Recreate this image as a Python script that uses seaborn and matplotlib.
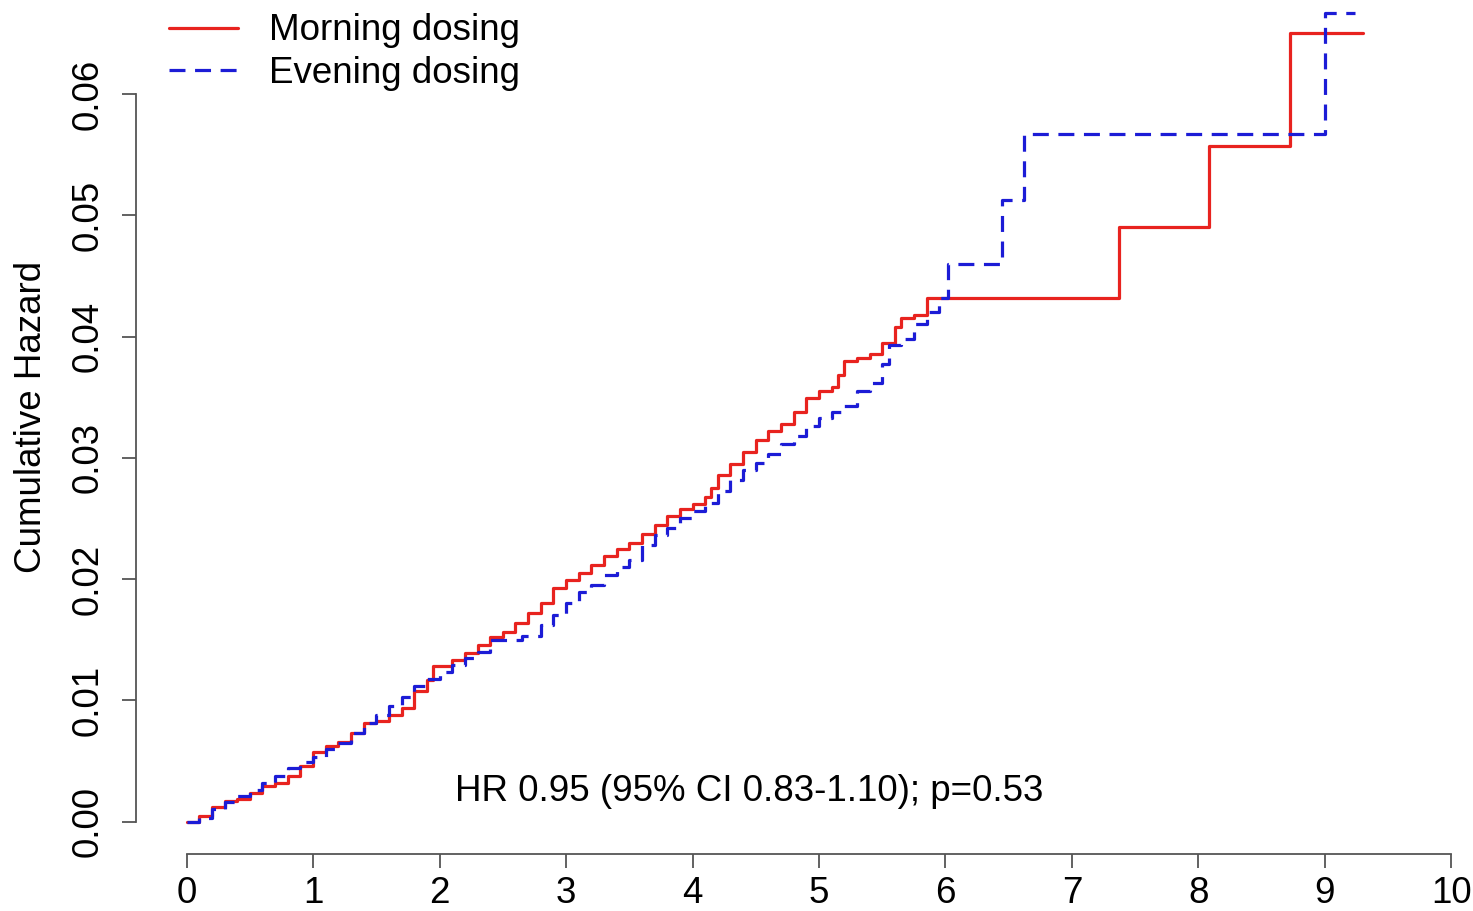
#!/usr/bin/env python3

# Import libraries
import pandas as pd
import matplotlib.pyplot as plt
import seaborn as sns

# Cumulative hazard (years since randomisation)
morning_time = [0, 0.1, 0.2, 0.3, 0.4, 0.5, 0.6, 0.7, 0.8, 0.9,
                1.0, 1.1, 1.2, 1.3, 1.4, 1.5, 1.6, 1.7, 1.8, 1.9,
                1.95, 2.1, 2.2, 2.3, 2.4, 2.5, 2.6, 2.7, 2.8, 2.9,
                3.0, 3.1, 3.2, 3.3, 3.4, 3.5, 3.6, 3.7, 3.8, 3.9,
                4.0, 4.1, 4.15, 4.2, 4.3, 4.4, 4.5, 4.6, 4.7, 4.8,
                4.9, 5.0, 5.1, 5.15, 5.2, 5.3, 5.4, 5.5, 5.6, 5.65,
                5.75, 5.85, 7.37, 8.08, 8.72, 9.30]
morning_hazard = [0, 0.0005, 0.0012, 0.0017, 0.0019, 0.0024, 0.0029, 0.0032, 0.0038, 0.0046,
                  0.0057, 0.0062, 0.0066, 0.0073, 0.0081, 0.0083, 0.0088, 0.0094, 0.0108, 0.0117,
                  0.0128, 0.0133, 0.0139, 0.0146, 0.0152, 0.0156, 0.0164, 0.0172, 0.0180, 0.0193,
                  0.0199, 0.0205, 0.0212, 0.0219, 0.0225, 0.0230, 0.0237, 0.0245, 0.0252, 0.0258,
                  0.0262, 0.0268, 0.0275, 0.0286, 0.0295, 0.0305, 0.0315, 0.0322, 0.0328, 0.0338,
                  0.0349, 0.0355, 0.0358, 0.0368, 0.0380, 0.0382, 0.0386, 0.0395, 0.0408, 0.0415,
                  0.0418, 0.0432, 0.0490, 0.0557, 0.0650, 0.0650]

evening_time = [0, 0.1, 0.2, 0.3, 0.4, 0.5, 0.6, 0.7, 0.8, 0.9,
                1.0, 1.1, 1.2, 1.3, 1.4, 1.5, 1.6, 1.7, 1.8, 1.9,
                2.0, 2.1, 2.2, 2.3, 2.4, 2.65, 2.8, 2.9, 3.0, 3.1,
                3.2, 3.3, 3.4, 3.5, 3.6, 3.7, 3.8, 3.9, 4.0, 4.1,
                4.2, 4.3, 4.4, 4.5, 4.6, 4.7, 4.8, 4.9, 5.0, 5.1,
                5.2, 5.3, 5.4, 5.5, 5.55, 5.65, 5.75, 5.85, 5.95, 6.02,
                6.45, 6.62, 9.00, 9.24]
evening_hazard = [0, 0.0003, 0.0010, 0.0016, 0.0021, 0.0026, 0.0032, 0.0038, 0.0044, 0.0049,
                  0.0053, 0.0060, 0.0065, 0.0073, 0.0081, 0.0088, 0.0095, 0.0103, 0.0112, 0.0118,
                  0.0123, 0.0129, 0.0135, 0.0140, 0.0150, 0.0153, 0.0162, 0.0170, 0.0180, 0.0189,
                  0.0195, 0.0203, 0.0210, 0.0216, 0.0228, 0.0236, 0.0242, 0.0250, 0.0256, 0.0263,
                  0.0273, 0.0282, 0.0290, 0.0296, 0.0303, 0.0311, 0.0318, 0.0326, 0.0333, 0.0338,
                  0.0343, 0.0355, 0.0362, 0.0377, 0.0393, 0.0398, 0.0410, 0.0420, 0.0432, 0.0460,
                  0.0513, 0.0567, 0.0667, 0.0667]

x_ticks = [0, 1, 2, 3, 4, 5, 6, 7, 8, 9, 10]
y_ticks = [0.00, 0.01, 0.02, 0.03, 0.04, 0.05, 0.06]
y_tick_labels = ["0.00", "0.01", "0.02", "0.03", "0.04", "0.05", "0.06"]
annotation = "HR 0.95 (95% CI 0.83-1.10); p=0.53"

df_m = pd.DataFrame({"time": morning_time, "hazard": morning_hazard})
df_e = pd.DataFrame({"time": evening_time, "hazard": evening_hazard})

# Visualisation (R base-graphics look)
sns.set_style("white")
plt.rcParams["font.family"] = ["Liberation Sans", "DejaVu Sans"]
plt.rcParams["text.color"] = "black"
plt.rcParams["axes.labelcolor"] = "black"
fs = 26.5

fig = plt.figure(figsize=(14.73, 9.11), dpi=100)
ax = fig.add_axes([136 / 1473, 57 / 911, 1366 / 1473, 874 / 911])

sns.lineplot(data=df_m, x="time", y="hazard", ax=ax, color="#e8231f",
             lw=2.3, drawstyle="steps-post", estimator=None, label="Morning dosing")
sns.lineplot(data=df_e, x="time", y="hazard", ax=ax, color="#1c1cd6",
             lw=2.3, drawstyle="steps-post", estimator=None, label="Evening dosing")
ax.lines[1].set_dashes((5, 3))

ax.set_xlim(-0.4, 10.4)
ax.set_ylim(-0.00267, 0.0694)

# Axes like R: detached, bounded spines
for s in ["top", "right"]:
    ax.spines[s].set_visible(False)
for s in ["left", "bottom"]:
    ax.spines[s].set_color("#555555")
    ax.spines[s].set_linewidth(1.3)
ax.spines["bottom"].set_bounds(0, 10)
ax.spines["left"].set_bounds(0, 0.06)

ax.set_xticks(x_ticks)
ax.set_yticks(y_ticks)
ax.set_yticklabels(y_tick_labels, rotation=90, va="center")
ax.tick_params(axis="both", direction="out", length=10, width=1.3,
               color="#555555", labelsize=fs, labelcolor="black",
               left=True, bottom=True)
ax.tick_params(axis="x", pad=6)
ax.tick_params(axis="y", pad=12)

ax.set_xlabel("")
ax.set_ylabel("Cumulative Hazard", fontsize=fs)
ax.yaxis.set_label_coords(-0.0637, 0.5)

ax.text(4.45, 0.0025, annotation, fontsize=fs, ha="center", va="center")

leg = ax.legend(loc="upper left", bbox_to_anchor=(151 / 1473, 1 + 5 / 911),
                bbox_transform=fig.transFigure, frameon=False, fontsize=fs,
                handlelength=1.875, handletextpad=0.84, labelspacing=0.2,
                borderpad=0)

# Save plot as png figure
plt.savefig("out.png", dpi=100)
